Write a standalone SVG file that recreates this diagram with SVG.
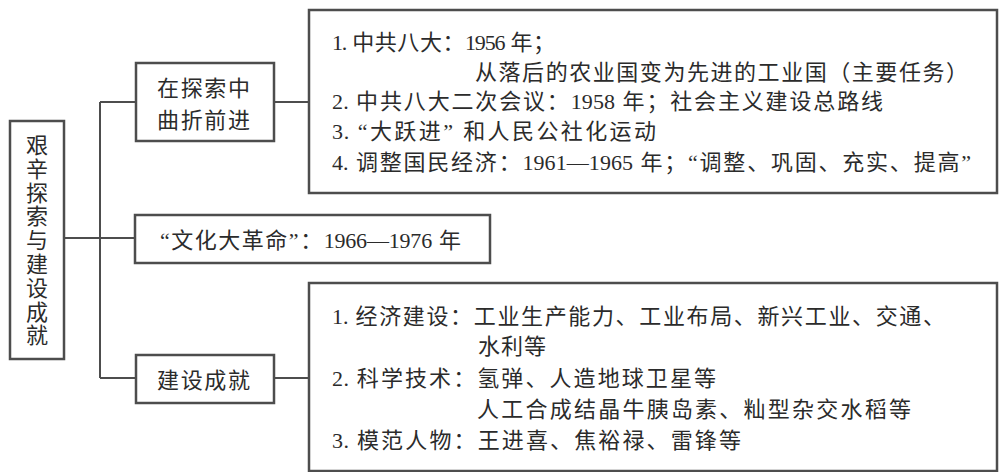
<svg xmlns="http://www.w3.org/2000/svg" width="1000" height="472" viewBox="0 0 1000 472">
<style>
.box{fill:#fff;stroke:#4d4d4d;stroke-width:2.5}
.ln{fill:none;stroke:#4d4d4d;stroke-width:2}
text{font-family:"Liberation Serif","Noto Sans CJK SC",serif;font-size:22px;fill:#2b2b2b;dominant-baseline:central;letter-spacing:2px}
.c{text-anchor:middle}
.n{letter-spacing:0.3px}
</style>
<rect width="1000" height="472" fill="#fff"/>
<g id="connectors">
<path class="ln" d="M64 238H135"/>
<path class="ln" d="M100 102V378"/>
<path class="ln" d="M100 102H136"/>
<path class="ln" d="M100 378H136"/>
<path class="ln" d="M274 102H309"/>
<path class="ln" d="M274 378H309"/>
</g>
<g id="root">
<rect class="box" x="10" y="121" width="54" height="238"/>
<text class="c" style="letter-spacing:0"><tspan x="37" y="145">艰</tspan><tspan x="37" y="169">辛</tspan><tspan x="37" y="193">探</tspan><tspan x="37" y="216">索</tspan><tspan x="37" y="240">与</tspan><tspan x="37" y="264">建</tspan><tspan x="37" y="288">设</tspan><tspan x="37" y="312">成</tspan><tspan x="37" y="335">就</tspan></text>
</g>
<g id="explore">
<rect class="box" x="136" y="63" width="138" height="78"/>
<text x="157" y="88" textLength="95">在探索中</text>
<text x="157" y="120" textLength="95">曲折前进</text>
</g>
<g id="explore-detail">
<rect class="box" x="309" y="10" width="688" height="183"/>
<text x="332" y="42" textLength="225"><tspan class="n">1.</tspan> 中共八大：<tspan class="n">1956</tspan> 年；</text>
<text x="475" y="72" textLength="495">从落后的农业国变为先进的工业国（主要任务）</text>
<text x="332" y="101" textLength="553"><tspan class="n">2.</tspan> 中共八大二次会议：<tspan class="n">1958</tspan> 年；社会主义建设总路线</text>
<text x="332" y="131" textLength="326"><tspan class="n">3.</tspan> “大跃进” 和人民公社化运动</text>
<text x="332" y="162" textLength="641"><tspan class="n">4.</tspan> 调整国民经济：<tspan class="n">1961—1965</tspan> 年；“调整、巩固、充实、提高”</text>
</g>
<g id="cultural-revolution">
<rect class="box" x="135" y="215" width="355" height="48"/>
<text x="160" y="240" textLength="303">“文化大革命”：<tspan class="n">1966—1976</tspan> 年</text>
</g>
<g id="achievements">
<rect class="box" x="136" y="355" width="138" height="48"/>
<text x="157" y="380" textLength="95">建设成就</text>
</g>
<g id="achievements-detail">
<rect class="box" x="309" y="283" width="688" height="188"/>
<text x="332" y="316" textLength="615"><tspan class="n">1.</tspan> 经济建设：工业生产能力、工业布局、新兴工业、交通、</text>
<text x="478" y="346" textLength="70">水利等</text>
<text x="332" y="378" textLength="386"><tspan class="n">2.</tspan> 科学技术：氢弹、人造地球卫星等</text>
<text x="477" y="409" textLength="436">人工合成结晶牛胰岛素、籼型杂交水稻等</text>
<text x="332" y="440" textLength="411"><tspan class="n">3.</tspan> 模范人物：王进喜、焦裕禄、雷锋等</text>
</g>
</svg>
